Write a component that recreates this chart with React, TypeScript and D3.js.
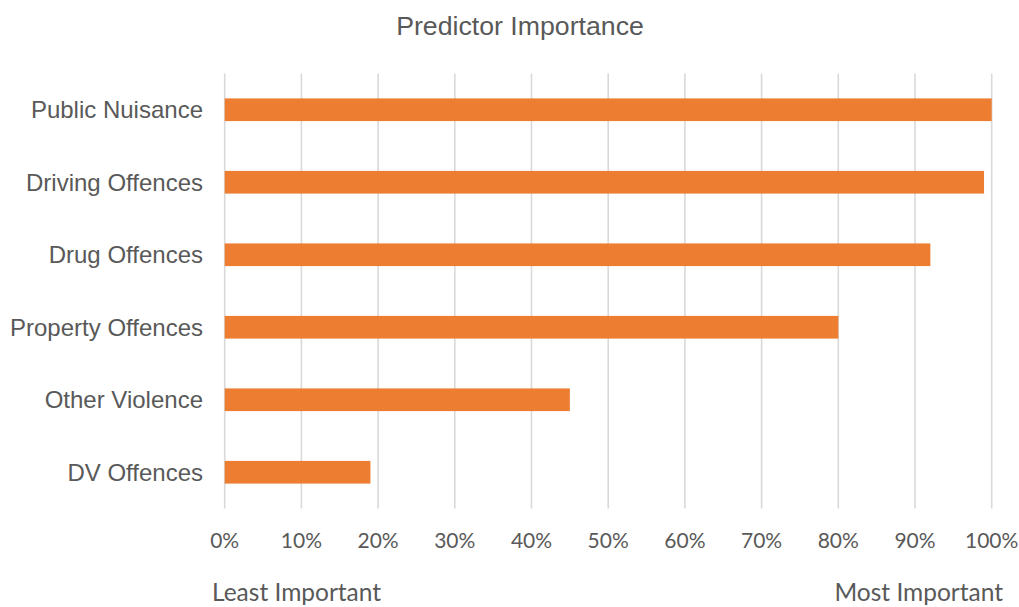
import React from "react";
import * as d3 from "d3";

const categories = [
  "Public Nuisance",
  "Driving Offences",
  "Drug Offences",
  "Property Offences",
  "Other Violence",
  "DV Offences",
];
const importance = [1.0, 0.99, 0.92, 0.8, 0.45, 0.19];
const tickValues = [0, 0.1, 0.2, 0.3, 0.4, 0.5, 0.6, 0.7, 0.8, 0.9, 1.0];

const W = 1019;
const H = 607;
const margin = { left: 224.7, right: 1019 - 991.7, top: 73.5, bottom: 607 - 508.5 };

export default function App() {
  const x = d3.scaleLinear().domain([0, 1]).range([margin.left, W - margin.right]);
  const y = d3
    .scaleBand<string>()
    .domain(categories)
    .range([margin.top, H - margin.bottom])
    .paddingInner(0.687)
    .paddingOuter(0.687 / 2);
  const fmt = d3.format(".0%");
  const textColor = "#595959";

  return (
    <svg
      width={W}
      height={H}
      style={{ position: "fixed", left: 0, top: 0, background: "#fff" }}
    >
      <text
        x={520}
        y={35}
        textAnchor="middle"
        fontFamily="Liberation Sans, Arial, sans-serif"
        fontSize={26.7}
        fill={textColor}
      >
        Predictor Importance
      </text>

      {tickValues.map((t) => (
        <g key={t}>
          <line
            x1={x(t)}
            x2={x(t)}
            y1={margin.top}
            y2={H - margin.bottom}
            stroke="#d9d9d9"
            strokeWidth={1.6}
          />
          <text
            x={x(t)}
            y={548}
            textAnchor="middle"
            fontFamily="Lato, sans-serif"
            fontSize={21}
            fill={textColor}
          >
            {fmt(t)}
          </text>
        </g>
      ))}

      {categories.map((c, i) => (
        <g key={c}>
          <rect
            x={x(0)}
            y={y(c)!}
            width={x(importance[i]) - x(0)}
            height={y.bandwidth()}
            fill="#ED7D31"
          />
          <text
            x={203}
            y={y(c)! + y.bandwidth() / 2}
            dy="0.35em"
            textAnchor="end"
            fontFamily="Liberation Sans, Arial, sans-serif"
            fontSize={24}
            fill={textColor}
          >
            {c}
          </text>
        </g>
      ))}

      <text
        x={212}
        y={601}
        fontFamily="Lato, sans-serif"
        fontSize={24.5}
        fill={textColor}
      >
        Least Important
      </text>
      <text
        x={1003}
        y={601}
        textAnchor="end"
        fontFamily="Lato, sans-serif"
        fontSize={24.5}
        fill={textColor}
      >
        Most Important
      </text>
    </svg>
  );
}
